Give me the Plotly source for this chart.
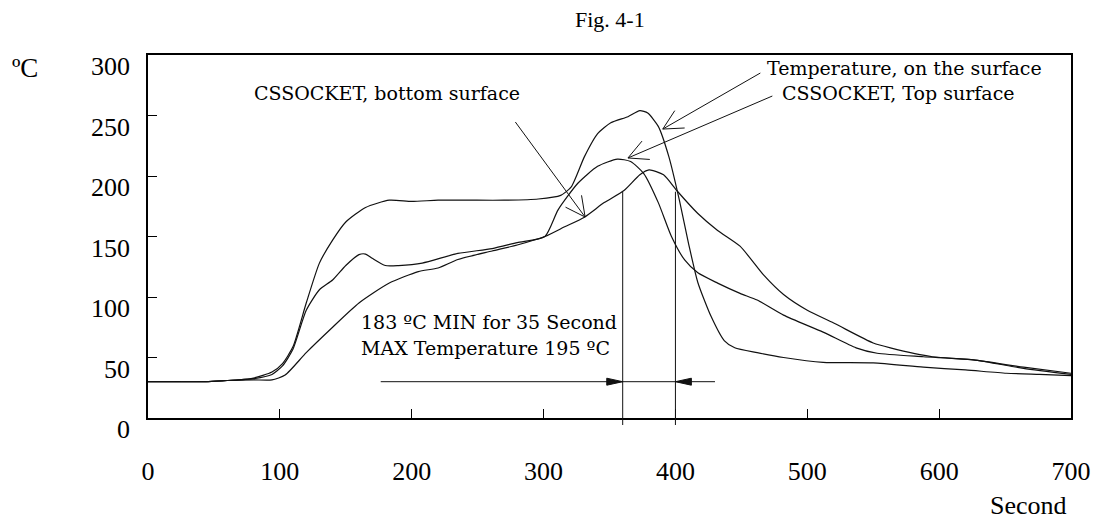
import math
import plotly.graph_objects as go

# ---------------- data ----------------
x_tick_vals = [0, 100, 200, 300, 400, 500, 600, 700]
y_tick_vals = [0, 50, 100, 150, 200, 250, 300]

# Temperature, on the surface
t_surface = [0, 20, 44, 60, 69, 80, 94, 102, 110, 120, 130, 140, 150, 165, 183,
             200, 220, 243, 270, 296, 313, 321, 331, 341, 351, 364, 373, 379,
             387, 395, 403, 410, 417, 427, 437, 445, 462, 482, 512, 550, 588,
             620, 651, 676, 700]
temp_surface = [30, 30, 30, 31, 31.5, 33, 38, 45, 59, 95, 128, 147, 162, 174, 180,
                179, 180, 180, 180, 181, 184, 191, 216, 235, 244, 249, 254, 252,
                241, 216, 180, 144, 112, 84, 64, 58, 54, 50, 46, 45.5, 42,
                39.7, 37, 36, 35]

# CSSOCKET, Top surface
t_top = [0, 20, 44, 60, 69, 80, 94, 102, 110, 120, 130, 140, 150, 160, 165, 170,
         180, 190, 208, 235, 261, 280, 301, 311, 326, 341, 356, 366, 376, 387,
         397, 407, 417, 432, 449, 462, 482, 512, 537, 553, 588, 626, 664, 700]
temp_top = [30, 30, 30, 31, 31.5, 32.5, 36, 43, 57, 89, 106, 114, 126, 135, 135.5, 132,
            126, 126, 128, 136, 140, 145, 150, 172, 194, 208, 214, 212, 202, 178,
            150, 130.6, 120, 111.5, 103, 97.5, 85, 71, 58, 53.5, 50.6, 48, 41, 36]

# CSSOCKET, bottom surface
t_bottom = [0, 20, 44, 60, 80, 94, 104, 120, 140, 160, 183, 205, 220, 235, 261,
            280, 301, 316, 331, 346, 361, 373, 380, 391, 401, 417, 432, 449, 467,
            482, 500, 520, 550, 563, 595, 626, 664, 700]
temp_bottom = [30, 30, 30, 31, 31.5, 31.5, 35.5, 54, 75, 95, 111.5, 121, 124, 131, 138,
               143, 150, 158, 166, 178, 188, 201, 205, 201, 188, 169, 155, 142, 118,
               102, 89, 78.5, 62, 58, 50.6, 48, 42, 37]

# reflow window markers
window_start, window_end = 360, 400
window_top = 187
arrow_level = 30
arrow_left_start, arrow_right_start = 176.5, 430

# ---------------- geometry ----------------
W, H = 1103, 519
PL, PR, PT, PB = 148, 1075, 55, 418   # plot area in page pixels
X_MAX, Y_MAX = 700, 300
SX = (PR - PL) / X_MAX
SY = (PB - PT) / Y_MAX

LINE = "#111111"
SERIF_T = "Liberation Serif"
SERIF_C = "DejaVu Serif"


def px_x(X):
    return (X - PL) / (PR - PL)


def px_y(Y):
    return (PB - Y) / (PB - PT)


fig = go.Figure()
for xs, ys in [(t_surface, temp_surface), (t_top, temp_top), (t_bottom, temp_bottom)]:
    fig.add_trace(go.Scatter(x=xs, y=ys, mode="lines",
                             line=dict(color=LINE, width=1.2, shape="spline", smoothing=0.6),
                             hoverinfo="skip", showlegend=False))

shapes = []
annotations = []


def leader(start, tip, half_angle=27, length=22):
    """Leader line from label to curve with an open V arrowhead."""
    shapes.append(dict(type="line", xref="x", yref="y", x0=start[0], y0=start[1],
                       x1=tip[0], y1=tip[1], line=dict(color=LINE, width=1)))
    dx = (start[0] - tip[0]) * SX
    dy = -(start[1] - tip[1]) * SY
    ang = math.atan2(dy, dx)
    for s in (-1, 1):
        a = ang + s * math.radians(half_angle)
        ex = tip[0] + length * math.cos(a) / SX
        ey = tip[1] - length * math.sin(a) / SY
        shapes.append(dict(type="line", xref="x", yref="y", x0=tip[0], y0=tip[1],
                           x1=ex, y1=ey, line=dict(color=LINE, width=1)))


def solid_head(tip_x, tip_y, direction, length=16, half=3.5):
    bx = tip_x - direction * length / SX
    hy = half / SY
    shapes.append(dict(type="path", xref="x", yref="y",
                       path=f"M {tip_x},{tip_y} L {bx},{tip_y + hy} L {bx},{tip_y - hy} Z",
                       fillcolor=LINE, line=dict(color=LINE, width=1)))


# leaders
leader((278.6, 244.6), (331.5, 166.1))
leader((464.4, 285.1), (390.4, 238.8))
leader((473.5, 266.1), (364.0, 214.9))

# vertical window lines
for xv in (window_start, window_end):
    shapes.append(dict(type="line", xref="x", yref="paper", x0=xv, x1=xv,
                       y0=px_y(425), y1=window_top / Y_MAX,
                       line=dict(color=LINE, width=1)))

# horizontal double arrow
shapes.append(dict(type="line", xref="x", yref="y", x0=arrow_left_start, x1=arrow_right_start,
                   y0=arrow_level, y1=arrow_level, line=dict(color=LINE, width=1)))
solid_head(window_start, arrow_level, +1)
solid_head(window_end, arrow_level, -1)


def text(X, Y, s, size=19, family=SERIF_C, xanchor="left", yanchor="middle"):
    annotations.append(dict(x=px_x(X), y=px_y(Y), xref="paper", yref="paper", text=s,
                            showarrow=False, xanchor=xanchor, yanchor=yanchor,
                            font=dict(family=family, size=size, color="black")))


text(252, 93, "CSSOCKET, bottom surface")
text(768, 68, "Temperature, on the surface")
text(783, 93, "CSSOCKET, Top surface")
text(360, 322, "183 ºC MIN for 35 Second")
text(360, 348, "MAX Temperature 195 ºC")
text(24, 68, "ºC", size=27, family=SERIF_T, xanchor="center")
text(1032, 522, "Second", size=26, family=SERIF_T, xanchor="center", yanchor="bottom")
text(612, 19, "Fig. 4-1", size=22, family=SERIF_T, xanchor="center")

fig.update_layout(
    width=W, height=H,
    margin=dict(l=PL, r=W - PR, t=PT, b=H - PB, pad=0),
    paper_bgcolor="white", plot_bgcolor="white",
    showlegend=False,
    shapes=shapes, annotations=annotations,
)
axis_common = dict(ticks="inside", ticklen=9, tickwidth=1, tickcolor="black",
                   showline=True, linecolor="black", linewidth=1.6, mirror=True,
                   showgrid=False, zeroline=False,
                   tickfont=dict(family=SERIF_T, size=26, color="black"))
fig.update_xaxes(range=[0, X_MAX], tickvals=x_tick_vals, ticklabelstandoff=29, **axis_common)
fig.update_yaxes(range=[0, Y_MAX], tickvals=y_tick_vals, ticklabelstandoff=11,
                 ticklabelshift=11, **axis_common)

# remove the browser's default page margin so the figure fills the window exactly
fig.write_html("out.html", config={"displayModeBar": False},
               post_script="document.body.style.margin='0px';")
